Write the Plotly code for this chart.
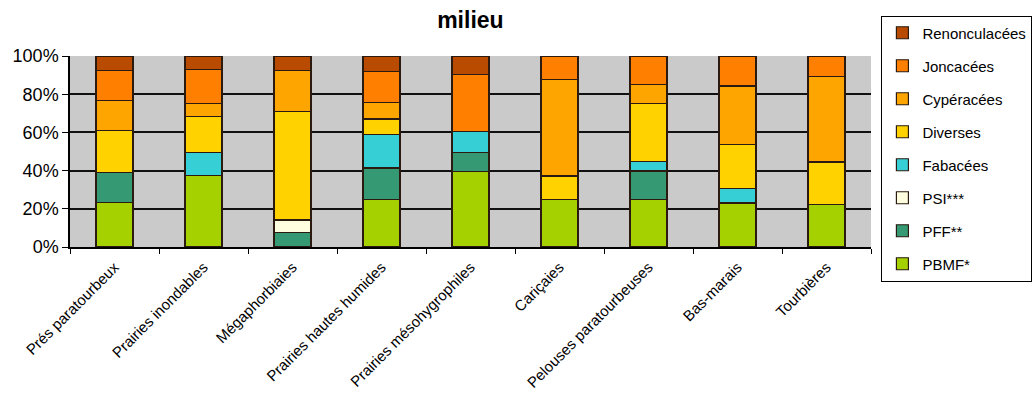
import plotly.graph_objects as go

categories = [
    "Prés paratourbeux", "Prairies inondables", "Mégaphorbiaies",
    "Prairies hautes humides", "Prairies mésohygrophiles", "Cariçaies",
    "Pelouses paratourbeuses", "Bas-marais", "Tourbières",
]

# Share of each group (%) per milieu, bottom to top of the stack
pbmf = [23.1, 37.4, 0.0, 24.7, 39.7, 24.7, 24.7, 23.0, 22.2]
pff = [15.8, 0.0, 7.6, 16.7, 9.9, 0.0, 15.1, 0.0, 0.0]
psi = [0.0, 0.0, 6.5, 0.0, 0.0, 0.0, 0.0, 0.0, 0.0]
fabacees = [0.0, 12.2, 0.0, 17.4, 10.9, 0.0, 4.9, 7.8, 0.0]
diverses = [22.0, 18.9, 57.0, 8.2, 0.0, 12.5, 30.6, 23.0, 22.3]
cyperacees = [15.8, 6.6, 21.4, 8.5, 0.0, 50.6, 9.9, 30.5, 44.9]
joncacees = [15.8, 17.9, 0.0, 16.3, 29.8, 12.2, 14.8, 15.7, 10.6]
renonculacees = [7.5, 6.8, 7.5, 8.2, 9.7, 0.0, 0.0, 0.0, 0.0]

series = [
    ("PBMF*", pbmf, "#a6d100"),
    ("PFF**", pff, "#359a74"),
    ("PSI***", psi, "#ffffe0"),
    ("Fabacées", fabacees, "#36cfd6"),
    ("Diverses", diverses, "#ffd200"),
    ("Cypéracées", cyperacees, "#ffa500"),
    ("Joncacées", joncacees, "#ff8000"),
    ("Renonculacées", renonculacees, "#b84b00"),
]

y_ticks = [0, 20, 40, 60, 80, 100]
y_tick_labels = ["0%", "20%", "40%", "60%", "80%", "100%"]
grid_levels = [20, 40, 60, 80]

fig = go.Figure()
n = len(series)
for i, (name, values, color) in enumerate(series):
    fig.add_trace(go.Bar(
        x=categories, y=values, name=name, legendgroup=name,
        legendrank=n - i,  # top of the stack first in the legend
        marker=dict(color=color, line=dict(color="#2a1a10", width=1.2)),
    ))

fig.update_layout(
    width=1035, height=411,
    barmode="stack", bargap=0.585,
    paper_bgcolor="white", plot_bgcolor="#cacaca",
    margin=dict(l=70, r=164, t=56, b=164, autoexpand=False),
    font=dict(family="Liberation Sans, Arial, sans-serif", color="black"),
    title=dict(text="<b>milieu</b>", x=0.4545, xanchor="center", y=0.972, yanchor="top",
               font=dict(size=23, color="black")),
    legend=dict(
        x=1.013, xanchor="left", y=1.212, yanchor="top",
        traceorder="grouped", tracegroupgap=10.5, maxheight=300,
        bgcolor="white", bordercolor="black", borderwidth=1,
        font=dict(size=15), itemwidth=30,
    ),
    showlegend=True,
)

fig.update_xaxes(
    type="category", tickangle=-45, tickfont=dict(size=15),
    showline=True, linecolor="black", linewidth=1.5,
    ticks="outside", tickson="boundaries", ticklen=5, tickcolor="black",
    ticklabelstandoff=4, showgrid=False,
)
fig.update_yaxes(
    range=[0, 100], tickvals=y_ticks, ticktext=y_tick_labels,
    tickfont=dict(size=18), showline=True, linecolor="black", linewidth=1.5,
    ticks="outside", ticklen=6, tickcolor="black",
    showgrid=False, zeroline=False,
    minor=dict(tickvals=grid_levels, showgrid=True, gridcolor="#111111",
               gridwidth=1.5, ticklen=0),
)

fig.write_html("out.html")
